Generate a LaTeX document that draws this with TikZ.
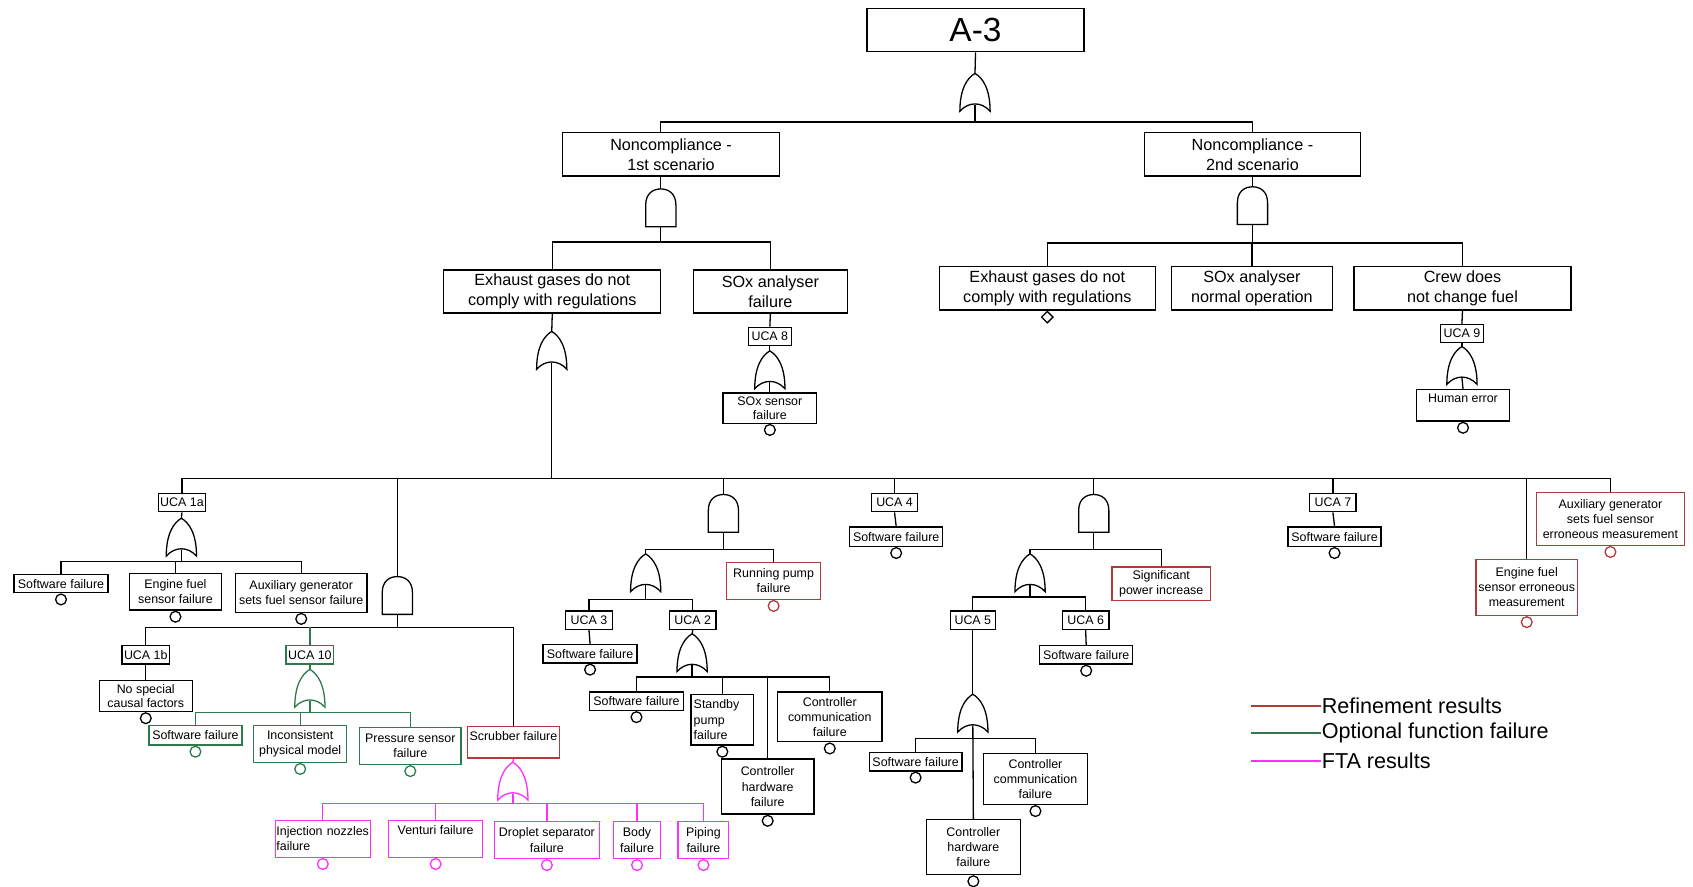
\documentclass[tikz,border=0pt]{standalone}
\usepackage{fontspec}
\setmainfont{Liberation Sans}
\usetikzlibrary{calc,shapes.geometric}
\definecolor{refred}{HTML}{B23A3A}
\definecolor{optgreen}{HTML}{2E7A4C}
\definecolor{ftamag}{HTML}{FF2EFF}
\newcommand{\myfs}[2]{\fontsize{#1}{#2}\selectfont}
\tikzset{
  ln/.style={line width=1.2pt},
  bx/.style={draw, line width=1.2pt, align=center, inner sep=1pt, font=\myfs{11.5}{14}},
  bigbx/.style={bx, font=\myfs{15}{18.5}},
  ucabx/.style={bx, minimum width=43pt, minimum height=17pt},
  ev/.style={circle, draw, line width=1.2pt, minimum size=10pt, inner sep=0pt, anchor=north},
  legtext/.style={anchor=west, font=\myfs{20}{22}, inner sep=1pt},
  orgate/.pic={
    \draw[line width=1.2pt, pic actions] (-14,35) .. controls (-14,14) and (-7,4) .. (0,0)
      .. controls (7,4) and (14,14) .. (14,35) .. controls (6,26) and (-6,26) .. cycle;
    \coordinate (-top) at (0,0);
    \coordinate (-bot) at (0,29);
  },
  andgate/.pic={
    \draw[line width=1.2pt, pic actions] (-14,35) -- (-14,15) .. controls (-14,4) and (-7,0) .. (0,0)
      .. controls (7,0) and (14,4) .. (14,15) -- (14,35) -- cycle;
    \coordinate (-top) at (0,0);
    \coordinate (-bot) at (0,35);
  },
}
\begin{document}
\begin{tikzpicture}[x=1pt,y=-1pt]
\useasboundingbox (0,0) rectangle (1568,821);

% ---------- top ----------
\node[bx, font=\myfs{31}{34}, minimum width=201pt, minimum height=40pt] (a3) at (903.5,28) {A-3};
\pic (g0) at (903,68) {orgate};
\node[bigbx, minimum width=201pt, minimum height=40pt] (nc1) at (621.5,143) {Noncompliance -\\1st scenario};
\node[bigbx, minimum width=200pt, minimum height=40pt] (nc2) at (1160,143) {Noncompliance -\\2nd scenario};

% ---------- 1st scenario ----------
\pic (g1) at (612,175) {andgate};
\node[bigbx, minimum width=201pt, minimum height=40pt] (ex1) at (511.5,270) {Exhaust gases do not\\comply with regulations};
\node[bigbx, minimum width=143pt, minimum height=40pt] (sox1) at (713.5,270) {SOx analyser\\failure};
\pic (g2) at (511,307) {orgate};
\node[ucabx, minimum width=40pt] (uca8) at (713,311.5) {UCA 8};
\pic (g3) at (713,325) {orgate};
\node[bx, minimum width=87pt, minimum height=28pt, font=\myfs{11.5}{13}] (soxs) at (713,378) {SOx sensor\\failure};
\node[ev] (esoxs) at (soxs.south) {};

% ---------- 2nd scenario ----------
\pic (g4) at (1160,173) {andgate};
\node[bigbx, minimum width=200pt, minimum height=40pt] (ex2) at (970,267) {Exhaust gases do not\\comply with regulations};
\node[diamond, draw, line width=1.2pt, minimum size=11pt, inner sep=0pt, anchor=north] (dex2) at (ex2.south) {};
\node[bigbx, minimum width=149pt, minimum height=40pt] (soxn) at (1159.5,267) {SOx analyser\\normal operation};
\node[bigbx, minimum width=201pt, minimum height=40pt] (crew) at (1354.5,267) {Crew does\\not change fuel};
\node[ucabx, minimum width=40pt] (uca9) at (1354,309) {UCA 9};
\pic (g5) at (1354,321) {orgate};
\node[bx, minimum width=86pt, minimum height=29pt, text depth=14pt] (hum) at (1355,375.5) {Human error};
\node[ev] (ehum) at (hum.south) {};

% ---------- UCA 1a branch ----------
\node[ucabx] (uca1a) at (168.5,465.5) {UCA 1a};
\pic (g6) at (168,480) {orgate};
\node[bx, minimum width=87pt, minimum height=17pt] (sw1) at (56.5,540.5) {Software failure};
\node[ev] (esw1) at (sw1.south) {};
\node[bx, minimum width=85pt, minimum height=34pt] (efs) at (162.5,548) {Engine fuel\\sensor failure};
\node[ev] (eefs) at (efs.south) {};
\node[bx, minimum width=122pt, minimum height=36pt] (agf) at (279,549) {Auxiliary generator\\sets fuel sensor failure};
\node[ev] (eagf) at (agf.south) {};

% ---------- AND branch at 368 ----------
\pic (g7) at (368,534) {andgate};
\node[ucabx, minimum width=44pt] (uca1b) at (135,606.5) {UCA 1b};
\node[bx, minimum width=86pt, minimum height=29pt, font=\myfs{11.5}{13.5}] (nsc) at (135,644.5) {No special\\causal factors};
\node[ev] (ensc) at (nsc.south) {};
\node[ucabx, minimum width=44pt, draw=optgreen] (uca10) at (287,606.5) {UCA 10};
\pic[optgreen] (g8) at (287,620) {orgate};
\node[bx, draw=optgreen, minimum width=86pt, minimum height=18pt] (sw2) at (181,681) {Software failure};
\node[ev, draw=optgreen] (esw2) at (sw2.south) {};
\node[bx, draw=optgreen, minimum width=86pt, minimum height=34pt] (ipm) at (278,689) {Inconsistent\\physical model};
\node[ev, draw=optgreen] (eipm) at (ipm.south) {};
\node[bx, draw=optgreen, minimum width=94pt, minimum height=34pt] (psf) at (380,691) {Pressure sensor\\failure};
\node[ev, draw=optgreen] (epsf) at (psf.south) {};
\node[bx, draw=refred, minimum width=85pt, minimum height=29pt, text depth=12pt] (scr) at (475.5,687.5) {Scrubber failure};
\pic[ftamag] (g9) at (475,706) {orgate};
\node[bx, draw=ftamag, minimum width=86pt, minimum height=34pt, text width=86pt, align=left] (inj) at (299,777) {\mbox{Injection nozzles}\\failure};
\node[ev, draw=ftamag] (einj) at (inj.south) {};
\node[bx, draw=ftamag, minimum width=87pt, minimum height=34pt, text depth=17pt] (ven) at (403.5,777) {Venturi failure};
\node[ev, draw=ftamag] (even) at (ven.south) {};
\node[bx, draw=ftamag, minimum width=97pt, minimum height=34pt] (dro) at (506.5,778) {Droplet separator\\failure};
\node[ev, draw=ftamag] (edro) at (dro.south) {};
\node[bx, draw=ftamag, minimum width=44pt, minimum height=34pt] (bod) at (590,778) {Body\\failure};
\node[ev, draw=ftamag] (ebod) at (bod.south) {};
\node[bx, draw=ftamag, minimum width=47pt, minimum height=34pt] (pip) at (651.5,778) {Piping\\failure};
\node[ev, draw=ftamag] (epip) at (pip.south) {};

% ---------- AND branch at 670 ----------
\pic (g10) at (670,458) {andgate};
\pic (g11) at (598,513) {orgate};
\node[ucabx] (uca3) at (545.5,574.5) {UCA 3};
\node[bx, minimum width=87pt, minimum height=17pt] (sw3) at (546.5,605.5) {Software failure};
\node[ev] (esw3) at (sw3.south) {};
\node[ucabx] (uca2) at (641.5,574.5) {UCA 2};
\pic (g12) at (641,587) {orgate};
\node[bx, minimum width=87pt, minimum height=17pt] (sw4) at (589.5,649.5) {Software failure};
\node[ev] (esw4) at (sw4.south) {};
\node[bx, minimum width=58pt, minimum height=47pt, text width=53pt, align=left] (sbp) at (669,666.5) {Standby\\pump\\failure};
\node[ev] (esbp) at (sbp.south) {};
\node[bx, minimum width=86pt, minimum height=51pt] (chf1) at (711,728.5) {Controller\\hardware\\failure};
\node[ev] (echf1) at (chf1.south) {};
\node[bx, minimum width=97pt, minimum height=46pt] (ccf1) at (768.5,664) {Controller\\communication\\failure};
\node[ev] (eccf1) at (ccf1.south) {};
\node[bx, draw=refred, minimum width=87pt, minimum height=34pt] (rpf) at (716.5,538) {Running pump\\failure};
\node[ev, draw=refred] (erpf) at (rpf.south) {};

% ---------- UCA 4 ----------
\node[ucabx] (uca4) at (828.5,465.5) {UCA 4};
\node[bx, minimum width=86pt, minimum height=18pt] (sw5) at (830,497) {Software failure};
\node[ev] (esw5) at (sw5.south) {};

% ---------- AND branch at 1013 ----------
\pic (g13) at (1013,458) {andgate};
\pic (g14) at (954,513) {orgate};
\node[ucabx, minimum width=42pt] (uca5) at (901,574.5) {UCA 5};
\pic (g15) at (901,643) {orgate};
\node[bx, minimum width=86pt, minimum height=17pt] (sw6) at (848,705.5) {Software failure};
\node[ev] (esw6) at (sw6.south) {};
\node[bx, minimum width=96pt, minimum height=47pt] (ccf2) at (959,721.5) {Controller\\communication\\failure};
\node[ev] (eccf2) at (ccf2.south) {};
\node[bx, minimum width=87pt, minimum height=51pt] (chf2) at (901.5,784.5) {Controller\\hardware\\failure};
\node[ev] (echf2) at (chf2.south) {};
\node[ucabx] (uca6) at (1005.5,574.5) {UCA 6};
\node[bx, minimum width=86pt, minimum height=17pt] (sw7) at (1006,606.5) {Software failure};
\node[ev] (esw7) at (sw7.south) {};
\node[bx, draw=refred, minimum width=91pt, minimum height=31pt] (spi) at (1075.5,540.5) {Significant\\power increase};

% ---------- UCA 7 ----------
\node[ucabx] (uca7) at (1234.5,465.5) {UCA 7};
\node[bx, minimum width=86pt, minimum height=18pt] (sw8) at (1236,497) {Software failure};
\node[ev] (esw8) at (sw8.south) {};

% ---------- red right ----------
\node[bx, draw=refred, minimum width=94pt, minimum height=52pt] (efe) at (1414,544) {Engine fuel\\sensor erroneous\\measurement};
\node[ev, draw=refred] (eefe) at (efe.south) {};
\node[bx, draw=refred, minimum width=137pt, minimum height=49pt] (age) at (1491.5,480.5) {Auxiliary generator\\sets fuel sensor\\erroneous measurement};
\node[ev, draw=refred] (eage) at (age.south) {};

% ---------- connectors ----------
\draw[ln] (a3.south) -- (g0-top);
\draw[ln] (g0-bot) -- ++(0,16) -| (g1-top |- nc1.north);
\draw[ln] (g0-bot) -- ++(0,16) -| (nc2.north);
\draw[ln] (g1-top |- nc1.south) -- (g1-top);
\draw[ln] (g1-bot) -- ++(0,14) -| (ex1.north);
\draw[ln] (g1-bot) -- ++(0,14) -| (sox1.north);
\draw[ln] (ex1.south) -- (g2-top);
\draw[ln] (sox1.south) -- (uca8.north);
\draw[ln] (uca8.south) -- (g3-top);
\draw[ln] (g3-bot) -- (soxs.north);
\draw[ln] (nc2.south) -- (g4-top);
\draw[ln] (g4-bot) -- ++(0,17) -| (ex2.north);
\draw[ln] (g4-bot) -- ++(0,17) -| (soxn.north);
\draw[ln] (g4-bot) -- ++(0,17) -| (crew.north);
\draw[ln] (crew.south) -- (uca9.north);
\draw[ln] (uca9.south) -- (g5-top);
\draw[ln] (g5-bot) -- (hum.north);

\coordinate (mb) at ($(g2-bot)+(0,107)$);
\draw[ln] (g2-bot) -- (mb);
\draw[ln] (mb) -| (uca1a.north);
\draw[ln] (mb) -| (g7-top);
\draw[ln] (mb) -| (g10-top);
\draw[ln] (mb) -| (uca4.north);
\draw[ln] (mb) -| (g13-top);
\draw[ln] (mb) -| (uca7.north);
\draw[ln] (mb) -| (efe.north);
\draw[ln] (mb) -| (age.north);

\draw[ln] (uca1a.south) -- (g6-top);
\draw[ln] (g6-bot) -- ++(0,11) -| (sw1.north);
\draw[ln] (g6-bot) -- ++(0,11) -| (efs.north);
\draw[ln] (g6-bot) -- ++(0,11) -| (agf.north);

\coordinate (b7) at ($(g7-bot)+(0,12)$);
\draw[ln] (g7-bot) -- (b7) -| (uca1b.north);
\draw[ln] (b7) -| (scr.north);
\draw[ln, optgreen] (b7 -| uca10.north) -- (uca10.north);
\draw[ln] (uca1b.south) -- (nsc.north);
\draw[ln, optgreen] (uca10.south) -- (g8-top);
\draw[ln, optgreen] (g8-bot) -- ++(0,11) -| (sw2.north);
\draw[ln, optgreen] (g8-bot) -- ++(0,11) -| (ipm.north);
\draw[ln, optgreen] (g8-bot) -- ++(0,11) -| (psf.north);
\draw[ln, ftamag] (scr.south) -- (g9-top);
\draw[ln, ftamag] (g9-bot) -- ++(0,9) -| (inj.north);
\draw[ln, ftamag] (g9-bot) -- ++(0,9) -| (ven.north);
\draw[ln, ftamag] (g9-bot) -- ++(0,9) -| (dro.north);
\draw[ln, ftamag] (g9-bot) -- ++(0,9) -| (bod.north);
\draw[ln, ftamag] (g9-bot) -- ++(0,9) -| (pip.north);

\draw[ln] (g10-bot) -- ++(0,16) -| (g11-top);
\draw[ln] (g10-bot) -- ++(0,16) -| (rpf.north);
\draw[ln] (g11-bot) -- ++(0,13) -| (uca3.north);
\draw[ln] (g11-bot) -- ++(0,13) -| (uca2.north);
\draw[ln] (uca3.south) -- (sw3.north);
\draw[ln] (uca2.south) -- (g12-top);
\draw[ln] (g12-bot) -- ++(0,11) -| (sw4.north);
\draw[ln] (g12-bot) -- ++(0,11) -| (sbp.north);
\draw[ln] (g12-bot) -- ++(0,11) -| (chf1.north);
\draw[ln] (g12-bot) -- ++(0,11) -| (ccf1.north);

\draw[ln] (uca4.south) -- (sw5.north);

\draw[ln] (g13-bot) -- ++(0,16) -| (g14-top);
\draw[ln] (g13-bot) -- ++(0,16) -| (spi.north);
\draw[ln] (g14-bot) -- ++(0,11) -| (uca5.north);
\draw[ln] (g14-bot) -- ++(0,11) -| (uca6.north);
\draw[ln] (uca5.south) -- (g15-top);
\draw[ln] (g15-bot) -- ++(0,12) -| (sw6.north);
\draw[ln] (g15-bot) -- (chf2.north);
\draw[ln] (g15-bot) -- ++(0,12) -| (ccf2.north);
\draw[ln] (uca6.south) -- (sw7.north);

\draw[ln] (uca7.south) -- (sw8.north);

% ---------- legend ----------
\node[legtext] (l1) at (1223,654) {Refinement results};
\node[legtext] (l2) at (1223,679) {Optional function failure};
\node[legtext] (l3) at (1223,705) {FTA results};
\draw[line width=1.2pt, refred] (l1.west) -- ++(-64,0);
\draw[line width=1.2pt, optgreen] (l2.west) -- ++(-64,0);
\draw[line width=1.4pt, ftamag] (l3.west) -- ++(-64,0);
\end{tikzpicture}
\end{document}
